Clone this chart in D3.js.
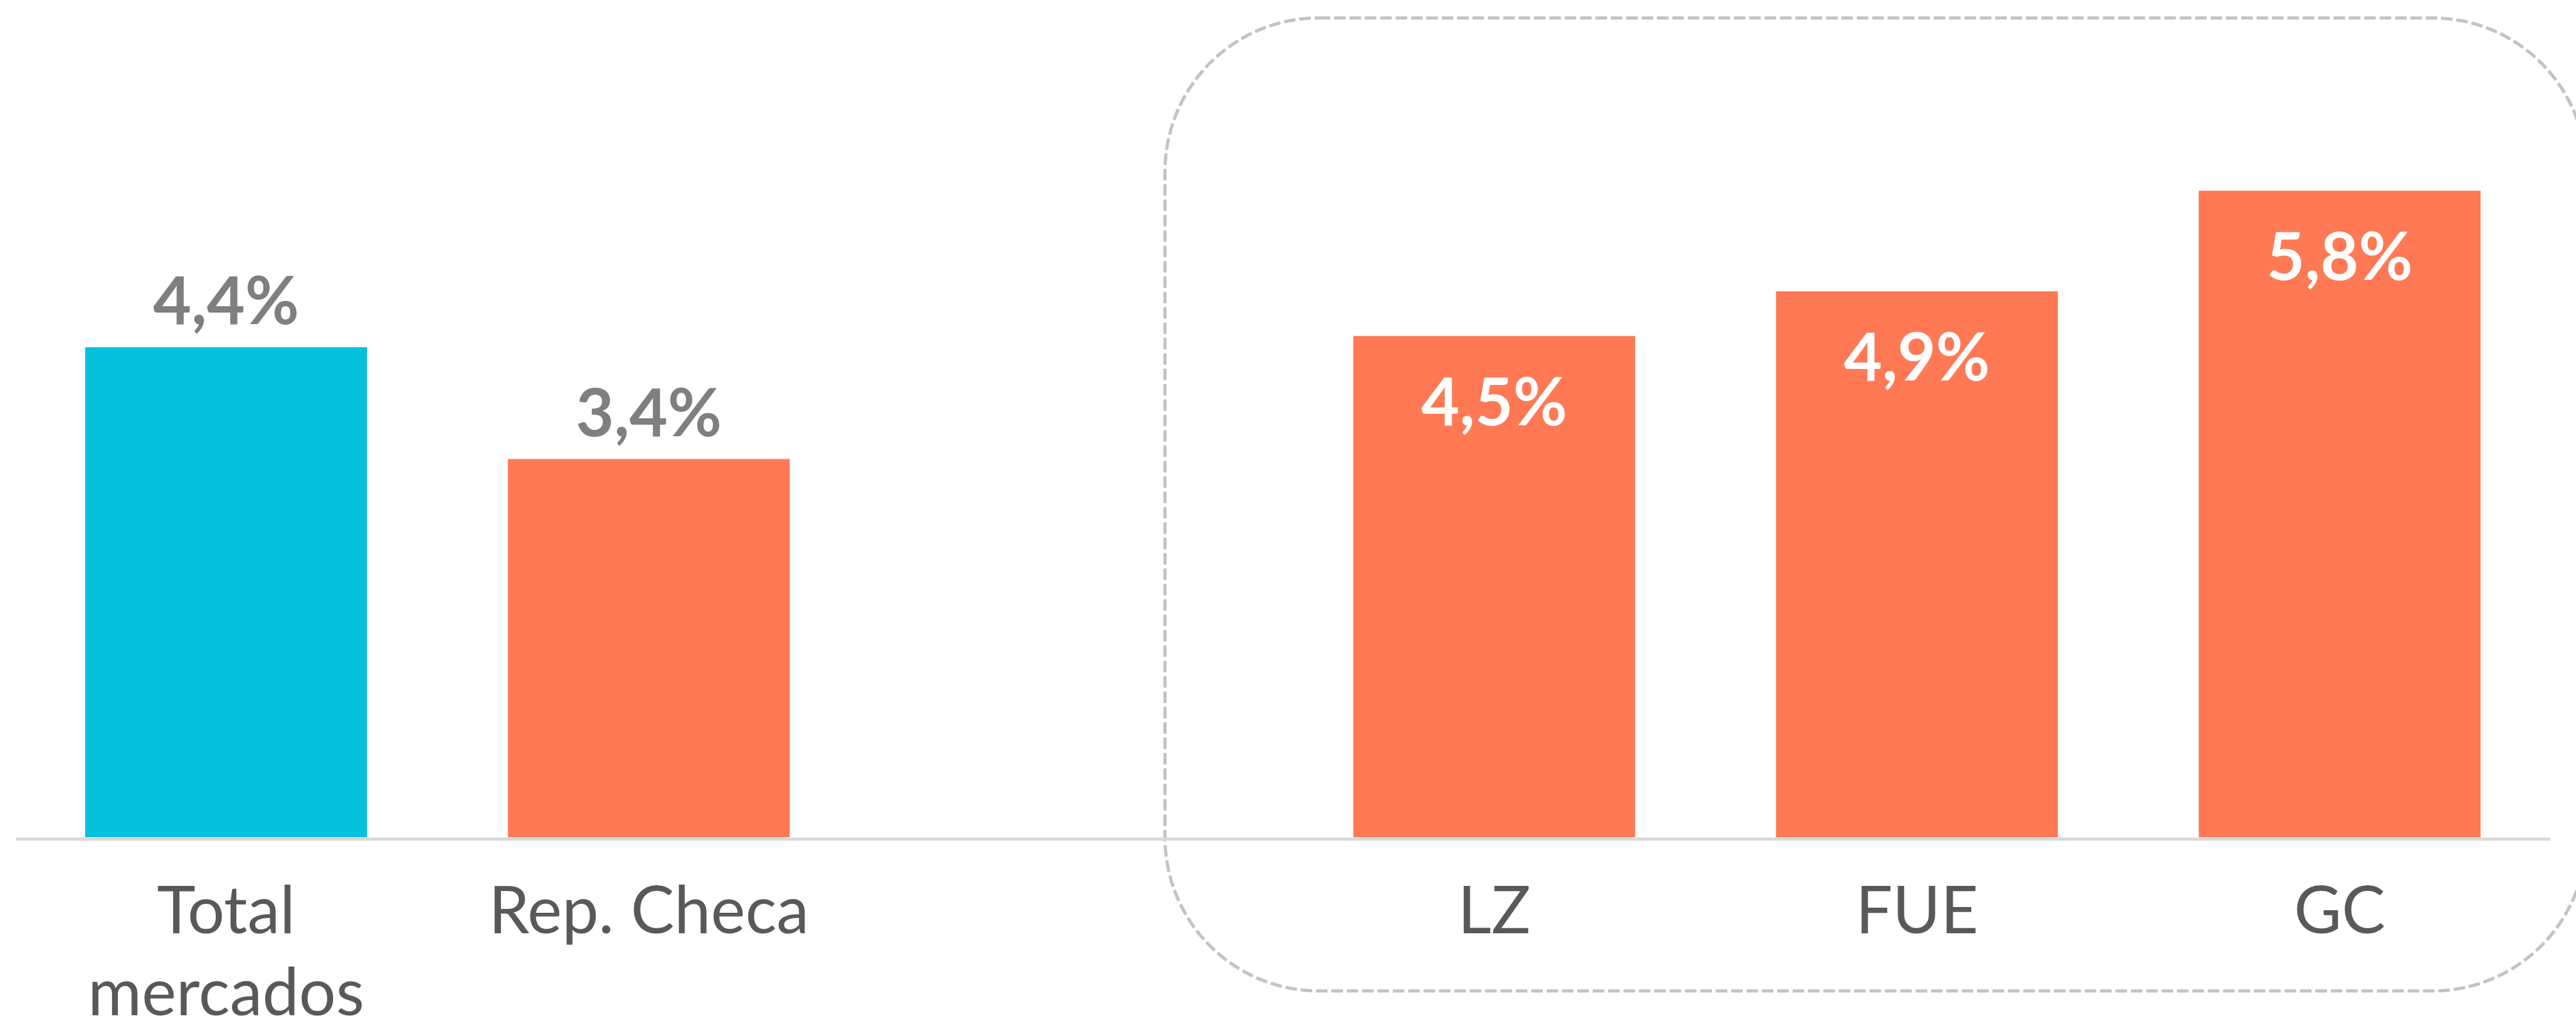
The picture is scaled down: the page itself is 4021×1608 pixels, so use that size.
<!DOCTYPE html>
<html>
<head>
<meta charset="utf-8">
<script src="https://cdn.jsdelivr.net/npm/d3@7"></script>
<style>
  html, body { margin: 0; padding: 0; background: #ffffff; }
  svg { display: block; }
</style>
</head>
<body>
<script>
// ---- data ----
const categories = ["Total mercados", "Rep. Checa", "LZ", "FUE", "GC"];
const categoryLines = [["Total", "mercados"], ["Rep. Checa"], ["LZ"], ["FUE"], ["GC"]];
const values = [4.4, 3.4, 4.5, 4.9, 5.8];
const valueLabels = ["4,4%", "3,4%", "4,5%", "4,9%", "5,8%"];
const groupOf = ["total", "country", "island", "island", "island"];

// ---- layout ----
const W = 4021, H = 1608;
const baseY = 1310;
const colors = { total: "#06C1DE", country: "#FF7955", island: "#FF7955" };
const fontFam = "Lato, 'Open Sans', 'Noto Sans', sans-serif";

const svg = d3.select("body").append("svg")
  .attr("width", W).attr("height", H);

// band domain with a spacer slot between the country and the islands
const slotDomain = [categories[0], categories[1], "__gap", categories[2], categories[3], categories[4]];
const x = d3.scaleBand().domain(slotDomain).range([23, 3982])
  .paddingInner(1/3).paddingOuter(1/6);
const y = d3.scaleLinear().domain([0, 7.5]).range([baseY, 1]);

const data = categories.map((c, i) => ({ c, v: values[i], lab: valueLabels[i], g: groupOf[i], lines: categoryLines[i] }));

// dashed rounded box around the island group
const boxLeft = x("LZ") - 294;
svg.append("rect")
  .attr("x", boxLeft).attr("y", 28)
  .attr("width", 4037 - boxLeft).attr("height", 1519)
  .attr("rx", 240).attr("ry", 240)
  .attr("fill", "none")
  .attr("stroke", "#c3c3c3")
  .attr("stroke-width", 5)
  .attr("stroke-dasharray", "18,6");

// bars
svg.selectAll("rect.bar").data(data).enter().append("rect")
  .attr("class", "bar")
  .attr("x", d => x(d.c))
  .attr("y", d => y(d.v))
  .attr("width", x.bandwidth())
  .attr("height", d => baseY - 3 - y(d.v))
  .attr("fill", d => colors[d.g]);

// axis baseline
svg.append("line")
  .attr("x1", 25).attr("x2", 3981)
  .attr("y1", baseY).attr("y2", baseY)
  .attr("stroke", "#d9d9d9").attr("stroke-width", 5);

// value labels
svg.selectAll("text.val").data(data).enter().append("text")
  .attr("class", "val")
  .attr("x", d => x(d.c) + x.bandwidth() / 2)
  .attr("y", d => d.g === "island" ? y(d.v) + 139 : y(d.v) - 36)
  .attr("text-anchor", "middle")
  .attr("font-family", fontFam)
  .attr("font-weight", 700)
  .attr("font-size", 103)
  .attr("fill", d => d.g === "island" ? "#ffffff" : "#7f7f7f")
  .text(d => d.lab);

// category labels
const cat = svg.selectAll("text.cat").data(data).enter().append("text")
  .attr("class", "cat")
  .attr("x", d => x(d.c) + x.bandwidth() / 2)
  .attr("y", 1457)
  .attr("text-anchor", "middle")
  .attr("font-family", fontFam)
  .attr("font-size", 102)
  .attr("fill", "#595959");
cat.selectAll("tspan").data(d => d.lines.map(l => ({ l, cx: x(d.c) + x.bandwidth() / 2 })))
  .enter().append("tspan")
  .attr("x", t => t.cx)
  .attr("dy", (t, i) => i === 0 ? 0 : 128)
  .text(t => t.l);
</script>
</body>
</html>
